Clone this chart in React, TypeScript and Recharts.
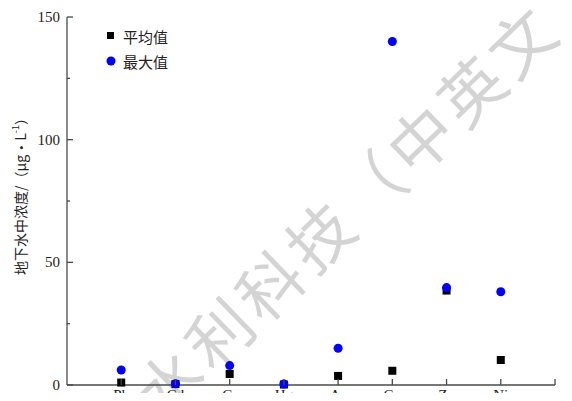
import React from 'react';
import { ScatterChart, Scatter, XAxis, YAxis } from 'recharts';

const elements = ['Pb', 'Cd', 'Cr', 'Hg', 'As', 'Cu', 'Zn', 'Ni'];
const meanValues = [1.0, 0.4, 4.5, 0.2, 3.7, 5.8, 38.5, 10.2];
const maxValues = [6.1, 0.5, 7.9, 0.4, 15.0, 140.0, 39.7, 38.0];
const yTicks = [0, 25, 50, 75, 100, 125, 150];
const yLabels = [0, 50, 100, 150];
const seriesNames = ['平均值', '最大值'];

const meanData = elements.map((name, i) => ({ x: i + 1, y: meanValues[i], name }));
const maxData = elements.map((name, i) => ({ x: i + 1, y: maxValues[i], name }));

const AXIS = '#4a4a4a';
const serif = '"Liberation Serif", "Times New Roman", serif';
const cjk = '"Noto Sans CJK SC", sans-serif';

const SquareDot = (props: any) => {
  const { cx, cy } = props;
  return <rect x={cx - 4} y={cy - 4} width={8} height={8} fill="#000" />;
};

const CircleDot = (props: any) => {
  const { cx, cy } = props;
  return <circle cx={cx} cy={cy} r={4.5} fill="#0000ff" />;
};

const YTick = (props: any) => {
  const { x, y, payload } = props;
  const v = payload.value;
  const major = yLabels.includes(v);
  const ax = x + 7;
  return (
    <g>
      <line x1={ax} x2={ax + (major ? 6 : 3)} y1={y} y2={y} stroke={AXIS} strokeWidth={1.3} />
      {major && (
        <text x={x} y={y} dy={5} textAnchor="end" fontFamily={serif} fontSize={15} fill="#222">
          {v}
        </text>
      )}
    </g>
  );
};

const XTick = (props: any) => {
  const { x, y, payload } = props;
  const v = payload.value;
  const ay = y - 4;
  const label = elements[v - 1] || '';
  return (
    <g>
      <line x1={x} x2={x} y1={ay} y2={ay - 6} stroke={AXIS} strokeWidth={1.3} />
      <text x={x} y={y} dy={11} textAnchor="middle" fontFamily={serif} fontSize={15} fill="#222">
        {label}
      </text>
    </g>
  );
};

const YLabel = () => (
  <text
    x={20}
    y={193}
    transform="rotate(-90 20 193)"
    textAnchor="middle"
    dominantBaseline="central"
    fontFamily={cjk}
    fontSize={14}
    fill="#222"
  >
    地下水中浓度/（μg·L<tspan dy={-5} fontSize={9}>-1</tspan><tspan dy={5}>）</tspan>
  </text>
);

const App: React.FC = () => {
  return (
    <div style={{ position: 'relative', width: 572, height: 401, margin: -8, background: 'white', overflow: 'hidden' }}>
      <svg width={572} height={401} style={{ position: 'absolute', left: 0, top: 0 }}>
        <text
          x={345}
          y={208}
          transform="rotate(-44 345 208)"
          textAnchor="middle"
          dominantBaseline="central"
          fontFamily={cjk}
          fontSize={64}
          letterSpacing={6}
          fill="#d4d4d4"
        >
          水利科技（中英文
        </text>
      </svg>
      <div style={{ position: 'absolute', left: 0, top: 0 }}>
        <ScatterChart width={572} height={401} margin={{ top: 17, right: 17, bottom: 0, left: 0 }}>
          <XAxis
            type="number"
            dataKey="x"
            domain={[0, 9]}
            ticks={[1, 2, 3, 4, 5, 6, 7, 8, 9]}
            tickSize={0}
            tickMargin={4}
            height={16}
            interval={0}
            stroke={AXIS}
            strokeWidth={1.3}
            tick={<XTick />}
          />
          <YAxis
            type="number"
            dataKey="y"
            domain={[0, 150]}
            ticks={yTicks}
            tickSize={0}
            tickMargin={7}
            width={67}
            interval={0}
            stroke={AXIS}
            strokeWidth={1.3}
            tick={<YTick />}
            label={{ content: <YLabel /> }}
          />
          <Scatter name={seriesNames[0]} data={meanData} shape={<SquareDot />} isAnimationActive={false} />
          <Scatter name={seriesNames[1]} data={maxData} shape={<CircleDot />} isAnimationActive={false} />
        </ScatterChart>
      </div>
      <svg width={100} height={50} style={{ position: 'absolute', left: 100, top: 28 }}>
        <rect x={7} y={4} width={7} height={7} fill="#000" />
        <text x={23} y={8} dominantBaseline="central" fontFamily={cjk} fontSize={15} fill="#222">{seriesNames[0]}</text>
        <circle cx={11} cy={33} r={4.5} fill="#0000ff" />
        <text x={23} y={33} dominantBaseline="central" fontFamily={cjk} fontSize={15} fill="#222">{seriesNames[1]}</text>
      </svg>
    </div>
  );
};

export default App;
